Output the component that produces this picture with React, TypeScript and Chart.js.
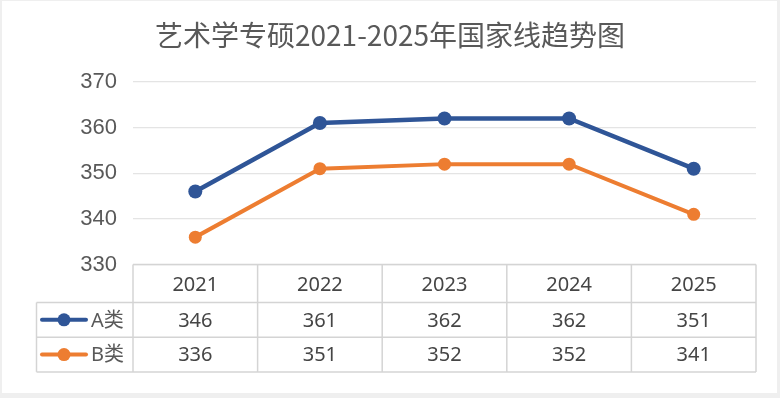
import React, { useEffect, useRef } from 'react';
import { Chart, registerables } from 'chart.js';

Chart.register(...registerables);

const TITLE = '艺术学专硕2021-2025年国家线趋势图';
const years = ['2021', '2022', '2023', '2024', '2025'];
const seriesNames = ['A类', 'B类'];
const valuesA = [346, 361, 362, 362, 351];
const valuesB = [336, 351, 352, 352, 341];
const yMin = 330;
const yMax = 370;
const yStep = 10;

const COLORS = ['#2F5597', '#ED7D31'];
const RADII = [7, 6.5];
const WIDTHS = [4.5, 4];
const TEXT = '#595959';
const TABLE_TEXT = '#454545';
const TABLE_LINE = '#d4d4d4';

export default function App() {
  const ref = useRef<HTMLCanvasElement>(null);

  useEffect(() => {
    if (!ref.current) return;

    const framePlugin = {
      id: 'frame',
      beforeDraw(chart: any) {
        const ctx = chart.ctx;
        ctx.save();
        ctx.fillStyle = '#efefef';
        ctx.fillRect(0, 0, chart.width, chart.height);
        ctx.fillStyle = '#ffffff';
        ctx.fillRect(2, 1, chart.width - 5, chart.height - 6);
        ctx.restore();
      },
    };

    const titlePlugin = {
      id: 'titleText',
      afterDraw(chart: any) {
        const ctx = chart.ctx;
        ctx.save();
        ctx.font = '28px "Noto Sans CJK SC", "Noto Sans", sans-serif';
        ctx.fillStyle = TEXT;
        ctx.textAlign = 'center';
        ctx.textBaseline = 'middle';
        ctx.fillText(TITLE, chart.width / 2, 35);
        ctx.restore();
      },
    };

    const tablePlugin = {
      id: 'dataTable',
      afterDraw(chart: any) {
        const ctx = chart.ctx;
        const xs = chart.scales.x;
        const area = chart.chartArea;
        const n = years.length;
        const colW = xs.getPixelForValue(1) - xs.getPixelForValue(0);
        const top = area.bottom;
        const headerH = 38;
        const rowH = 34.7;
        const rows = [top, top + headerH, top + headerH + rowH, top + headerH + 2 * rowH];
        const legendLeft = 36.5;

        ctx.save();
        ctx.strokeStyle = TABLE_LINE;
        ctx.lineWidth = 1.5;
        const line = (x1: number, y1: number, x2: number, y2: number) => {
          ctx.beginPath();
          ctx.moveTo(x1, y1);
          ctx.lineTo(x2, y2);
          ctx.stroke();
        };
        line(area.left, rows[0], area.right, rows[0]);
        for (let i = 1; i < rows.length; i++) line(legendLeft, rows[i], area.right, rows[i]);
        line(legendLeft, rows[1], legendLeft, rows[3]);
        for (let j = 0; j <= n; j++) {
          const bx = xs.getPixelForValue(0) - colW / 2 + j * colW;
          line(bx, rows[0], bx, rows[3]);
        }

        ctx.font = '20px "Noto Sans", "Noto Sans CJK SC", sans-serif';
        ctx.fillStyle = TABLE_TEXT;
        ctx.textAlign = 'center';
        ctx.textBaseline = 'middle';
        years.forEach((y, i) => {
          ctx.fillText(y, xs.getPixelForValue(i), (rows[0] + rows[1]) / 2 + 2);
        });
        chart.data.datasets.forEach((ds: any, r: number) => {
          const cy = (rows[r + 1] + rows[r + 2]) / 2 + 1;
          ds.data.forEach((v: number, i: number) => {
            ctx.fillText(String(v), xs.getPixelForValue(i), cy);
          });
          // legend key
          ctx.strokeStyle = COLORS[r];
          ctx.lineWidth = 4;
          ctx.lineCap = 'round';
          line(42, cy - 1, 86, cy - 1);
          ctx.fillStyle = COLORS[r];
          ctx.beginPath();
          ctx.arc(64, cy - 1, 6.5, 0, Math.PI * 2);
          ctx.fill();
          ctx.fillStyle = TEXT;
          ctx.textAlign = 'left';
          ctx.fillText(seriesNames[r], 91, cy);
          ctx.textAlign = 'center';
          ctx.fillStyle = TABLE_TEXT;
          ctx.strokeStyle = TABLE_LINE;
          ctx.lineWidth = 1.5;
        });
        ctx.restore();
      },
    };

    const chart = new Chart(ref.current, {
      type: 'line',
      data: {
        labels: years,
        datasets: [valuesA, valuesB].map((vals, i) => ({
          label: seriesNames[i],
          data: vals,
          borderColor: COLORS[i],
          backgroundColor: COLORS[i],
          pointBackgroundColor: COLORS[i],
          pointBorderColor: COLORS[i],
          borderWidth: WIDTHS[i],
          pointRadius: RADII[i],
          pointBorderWidth: 0,
          tension: 0,
          fill: false,
        })),
      },
      options: {
        responsive: false,
        animation: false,
        layout: { padding: { top: 82, right: 24, bottom: 133.5, left: 0 } },
        plugins: {
          legend: { display: false },
          title: { display: false },
          tooltip: { enabled: false },
        },
        scales: {
          x: {
            type: 'category',
            display: false,
            offset: true,
          },
          y: {
            min: yMin,
            max: yMax,
            afterFit(scale: any) {
              scale.width = 133;
            },
            ticks: {
              stepSize: yStep,
              padding: 16,
              color: TEXT,
              font: { family: '"Liberation Sans", Arial, sans-serif', size: 22 },
            },
            grid: {
              color: '#e4e4e4',
              lineWidth: 1.2,
              drawTicks: false,
            },
            border: { display: false },
          },
        },
      },
      plugins: [framePlugin, titlePlugin, tablePlugin],
    });

    return () => chart.destroy();
  }, []);

  return (
    <div style={{ position: 'absolute', left: 0, top: 0, width: 780, height: 398 }}>
      <canvas ref={ref} width={780} height={398} style={{ display: 'block' }} />
    </div>
  );
}
